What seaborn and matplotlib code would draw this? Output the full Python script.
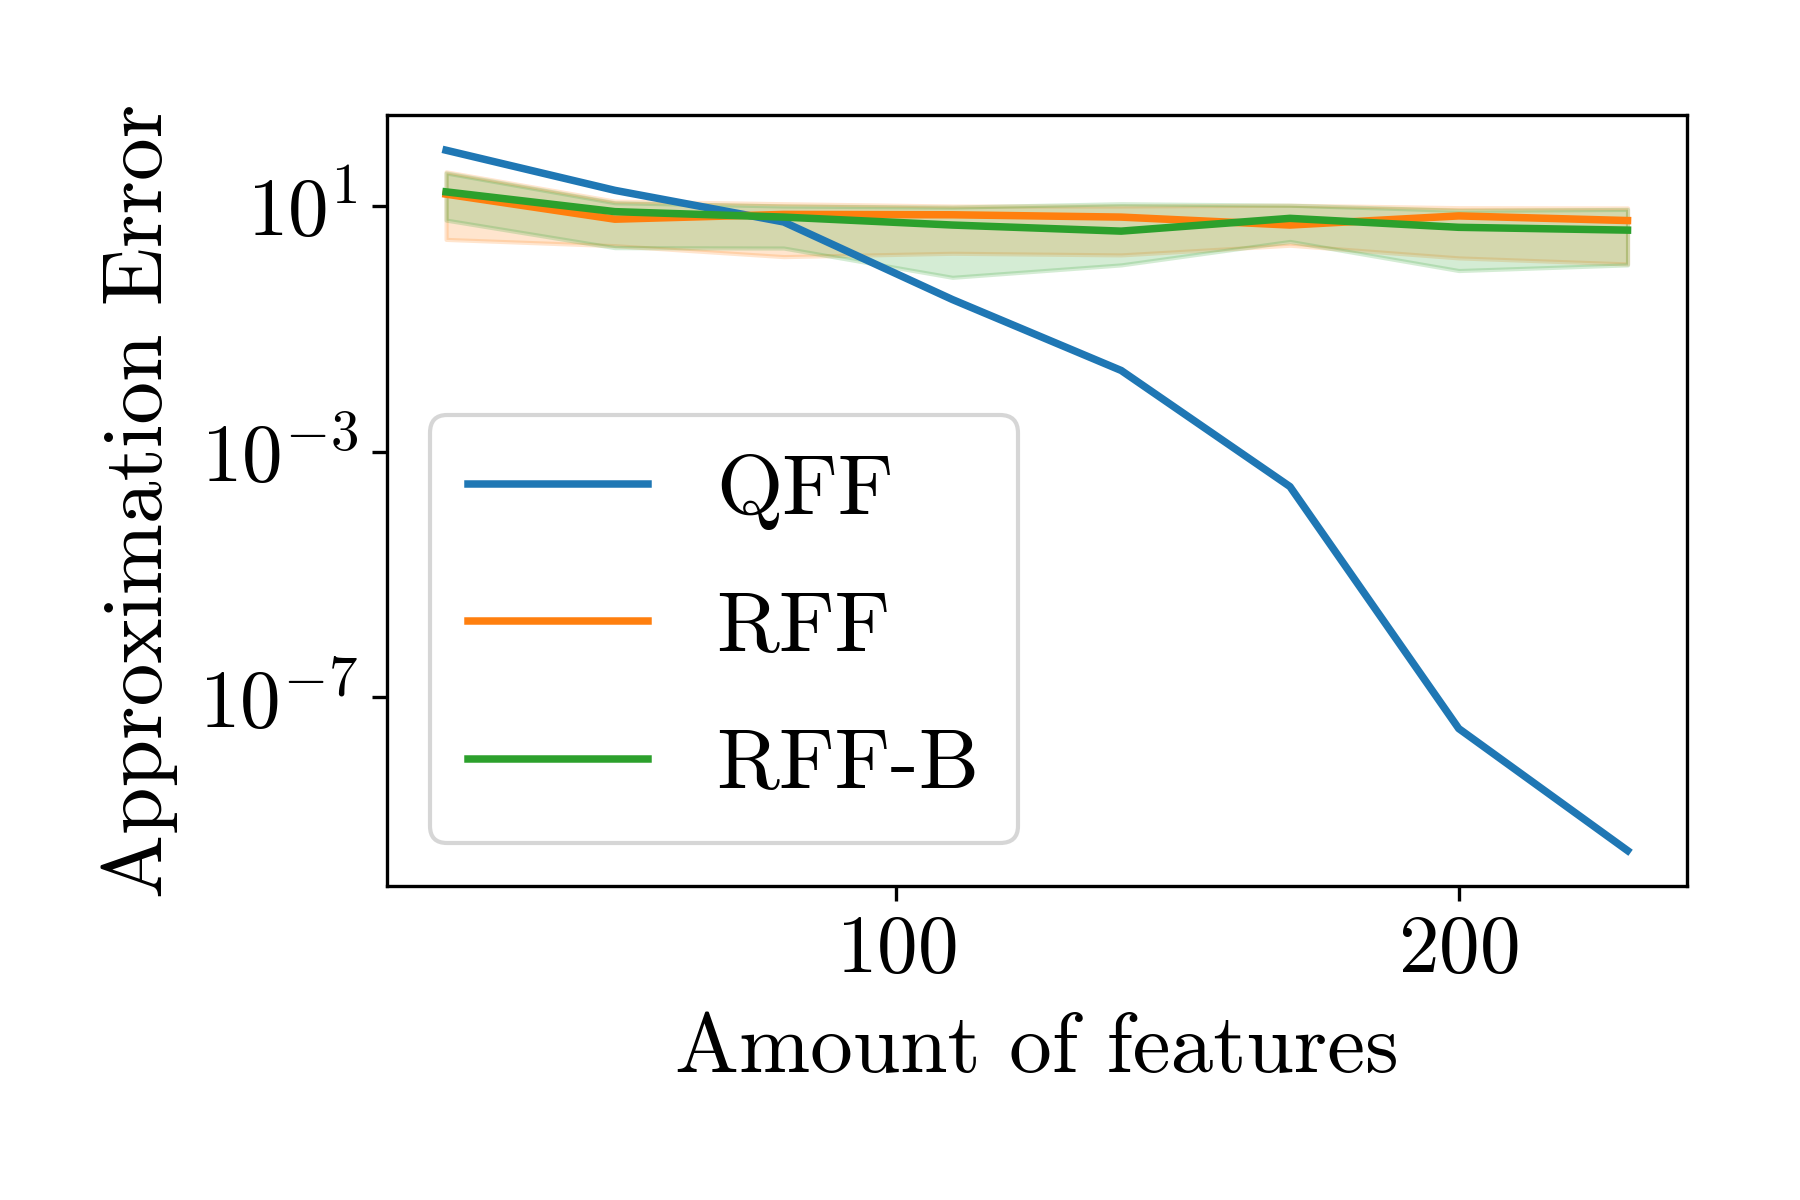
import numpy as np
import pandas as pd
import matplotlib
matplotlib.use("Agg")
import matplotlib.pyplot as plt
from matplotlib.ticker import NullLocator
import seaborn as sns

# values
features = [20, 50, 80, 110, 140, 170, 200, 230]
qff = [81, 18, 5.5, 0.3, 0.021, 2.7e-4, 3.1e-8, 3.2e-10]
rff = [15.6, 6.1, 7.3, 7.2, 6.6, 4.9, 6.9, 5.8]
rff_lo = [2.86, 2.26, 1.5, 1.7, 1.6, 2.3, 1.43, 1.14]
rff_hi = [36, 12, 10.9, 10, 10, 10.3, 9.4, 9.3]
rffb = [17, 8.1, 6.6, 4.9, 3.9, 6.3, 4.5, 4.05]
rffb_lo = [5.9, 2.1, 2.07, 0.69, 1.1, 2.65, 0.89, 1.1]
rffb_hi = [34.5, 11.3, 10, 9.6, 10.9, 10.3, 8.5, 8.8]

colors = sns.color_palette("tab10", 3)

plt.rcParams['font.family'] = 'serif'
plt.rcParams['font.serif'] = ['cmr10']
plt.rcParams['mathtext.fontset'] = 'cm'
plt.rcParams['axes.formatter.use_mathtext'] = True

fig, ax = plt.subplots(figsize=(6, 4), dpi=300)
plt.subplots_adjust(left=0.215, right=0.937, bottom=0.262, top=0.904)

lw = 1.8
sns.lineplot(x=features, y=qff, color=colors[0], linewidth=lw, label="QFF", ax=ax)
sns.lineplot(x=features, y=rff, color=colors[1], linewidth=lw, label="RFF", ax=ax)
ax.fill_between(features, rff_lo, rff_hi, color=colors[1], alpha=0.2)
sns.lineplot(x=features, y=rffb, color=colors[2], linewidth=lw, label="RFF-B", ax=ax)
ax.fill_between(features, rffb_lo, rffb_hi, color=colors[2], alpha=0.2)

ax.set_yscale("log")
ax.yaxis.set_minor_locator(NullLocator())
ax.set_xticks([100, 200])
ax.set_xlabel("Amount of features", fontsize=20.5, labelpad=6)
ax.set_ylabel("Approximation Error", fontsize=20.5, labelpad=5)
ax.tick_params(labelsize=19.5)
ax.legend(loc="lower left", fontsize=20.5, labelspacing=0.72,
          handlelength=2.1, borderpad=0.45)

fig.savefig("out.png", dpi=300)
